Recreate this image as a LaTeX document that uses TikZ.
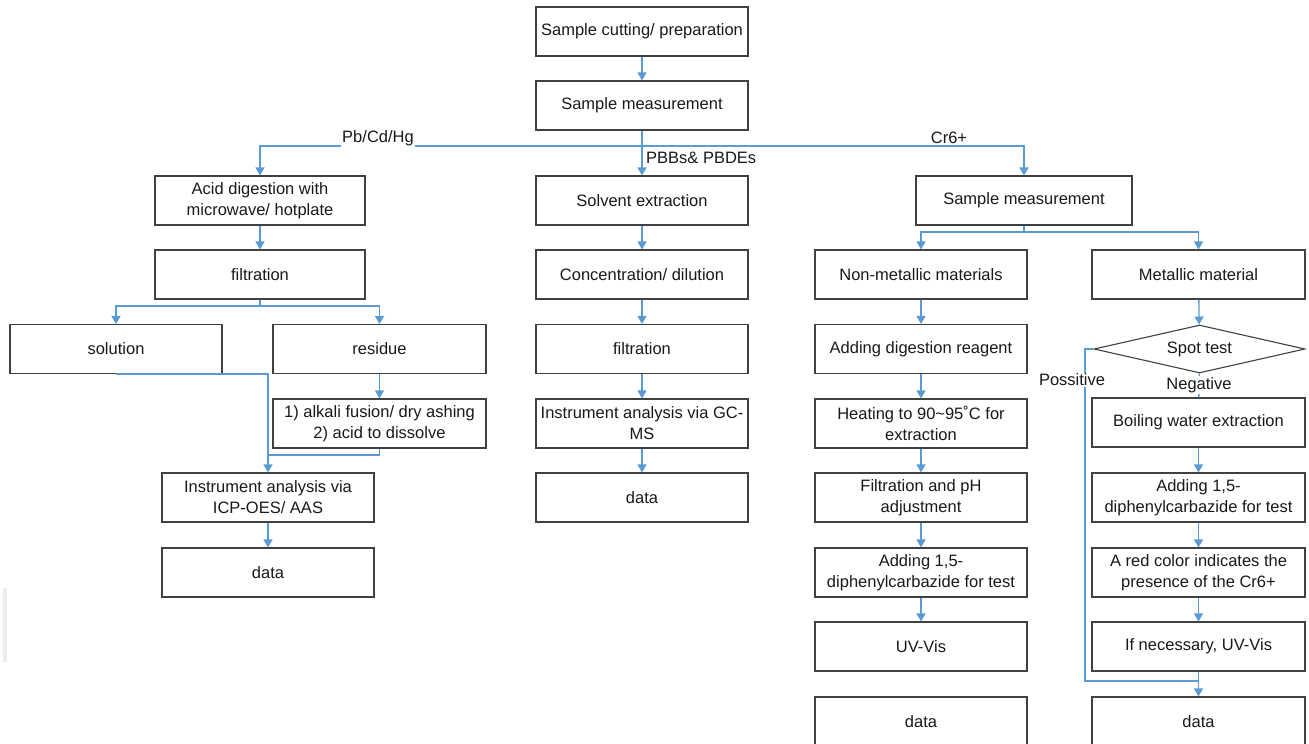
\documentclass[tikz,border=0pt]{standalone}
\usepackage{fontspec}
\setmainfont{Liberation Sans}
\usetikzlibrary{shapes.geometric, arrows.meta}
\definecolor{flowblue}{HTML}{5B9BD5}
\definecolor{boxgray}{HTML}{404040}

\begin{document}
\begin{tikzpicture}[x=1pt, y=-1pt,
    font=\fontsize{16.5}{21}\selectfont, text=black!90,
    box/.style={draw=boxgray, line width=1.1pt, minimum width=212pt, minimum height=49pt, align=center, inner sep=2pt},
    flow/.style={draw=flowblue, line width=1.3pt},
    arr/.style={flow, -{Triangle[width=9pt, length=8pt]}},
    lbl/.style={fill=white, inner sep=1pt}]
  \useasboundingbox (0,0) rectangle (1309,744);
  \fill[gray!15] (3,588) rectangle (7,662);

  % common steps
  \node[box] (prep) at (642,31.5) {Sample cutting/ preparation};
  \node[box] (meas) at (642,105.5) {Sample measurement};
  \coordinate (branch) at (642,146);

  % Pb/Cd/Hg
  \node[box, minimum width=210pt] (acid) at (260,200.5) {Acid digestion with\\microwave/ hotplate};
  \node[box, minimum width=210pt] (filt1) at (260,274.5) {filtration};
  \coordinate (split1) at (260,306);
  \node[box] (sol) at (116,349) {solution};
  \node[box, minimum width=213pt] (res) at (379.5,349) {residue};
  \node[box, minimum width=213pt] (alk) at (379.5,423.5) {1) alkali fusion/ dry ashing\\2) acid to dissolve};
  \coordinate (icpjoin) at (268,455);
  \node[box] (icp) at (268,497.5) {Instrument analysis via\\ICP-OES/ AAS};
  \node[box] (data1) at (268,572.5) {data};

  % PBBs & PBDEs
  \node[box] (solv) at (642,200.5) {Solvent extraction};
  \node[box] (conc) at (642,274.5) {Concentration/ dilution};
  \node[box] (filt2) at (642,349) {filtration};
  \node[box] (gcms) at (642,423.5) {Instrument analysis via GC-\\MS};
  \node[box] (data2) at (642,497.5) {data};

  % Cr6+
  \node[box, minimum width=216pt] (crm) at (1024,200.5) {Sample measurement};
  \coordinate (split3) at (1024,232);
  \node[box] (nonmet) at (921,274.5) {Non-metallic materials};
  \node[box] (digest) at (921,349) {Adding digestion reagent};
  \node[box] (heat) at (921,423.5) {Heating to 90\textasciitilde95˚C for\\extraction};
  \node[box] (filt3) at (921,497.5) {Filtration and pH\\adjustment};
  \node[box] (dpc1) at (921,572.5) {Adding 1,5-\\diphenylcarbazide for test};
  \node[box] (uv3) at (921,646.5) {UV-Vis};
  \node[box] (data3) at (921,721.5) {data};

  \node[box, minimum width=213pt] (metal) at (1198.5,274.5) {Metallic material};
  \node[draw=boxgray, line width=1.1pt, diamond, aspect=4.4, minimum width=211pt, minimum height=48pt, inner sep=0pt] (spot) at (1199.5,349) {Spot test};
  \node[box, minimum width=213pt] (boil) at (1198.5,422.5) {Boiling water extraction};
  \node[box, minimum width=213pt] (dpc2) at (1198.5,497.5) {Adding 1,5-\\diphenylcarbazide for test};
  \node[box, minimum width=213pt] (red) at (1198.5,572.5) {A red color indicates the\\presence of the Cr6+};
  \node[box, minimum width=213pt] (uv4) at (1198.5,646.5) {If necessary, UV-Vis};
  \node[box, minimum width=213pt] (data4) at (1198.5,721.5) {data};
  \coordinate (posbend) at (1085,681);
  \coordinate (posend) at (1198.5,681);

  % connectors
  \draw[arr] (prep) -- (meas);
  \draw[flow] (meas) -- (branch);
  \draw[arr] (branch) -- (solv);
  \draw[arr] (branch) -| (acid);
  \draw[arr] (branch) -| (crm);
  \node[lbl] (pbcd) at (378,138) {Pb/Cd/Hg};
  \node[lbl] (cr6) at (949,138) {Cr6+};
  \node[anchor=west, inner sep=1pt] (pbb) at (645,158) {PBBs\& PBDEs};

  \draw[arr] (acid) -- (filt1);
  \draw[flow] (filt1) -- (split1);
  \draw[arr] (split1) -| (sol);
  \draw[arr] (split1) -| (res);
  \draw[arr] (res) -- (alk);
  \draw[arr] (sol.south) -| (icp.north);
  \draw[flow] (alk.south) |- (icpjoin);
  \draw[arr] (icp) -- (data1);

  \draw[arr] (solv) -- (conc);
  \draw[arr] (conc) -- (filt2);
  \draw[arr] (filt2) -- (gcms);
  \draw[arr] (gcms) -- (data2);

  \draw[flow] (crm) -- (split3);
  \draw[arr] (split3) -| (nonmet);
  \draw[arr] (split3) -| (metal);
  \draw[arr] (nonmet) -- (digest);
  \draw[arr] (digest) -- (heat);
  \draw[arr] (heat) -- (filt3);
  \draw[arr] (filt3) -- (dpc1);
  \draw[arr] (dpc1) -- (uv3);

  \draw[arr] (metal) -- (spot);
  \draw[flow] (spot) -- (boil);
  \node[lbl] (neg) at (1199,385) {Negative};
  \draw[arr] (boil) -- (dpc2);
  \draw[arr] (dpc2) -- (red);
  \draw[arr] (red) -- (uv4);
  \draw[arr] (uv4) -- (data4);
  \draw[flow] (spot.west) -| (posbend) -- (posend);
  \node[lbl] (pos) at (1072,380) {Possitive};
\end{tikzpicture}
\end{document}
